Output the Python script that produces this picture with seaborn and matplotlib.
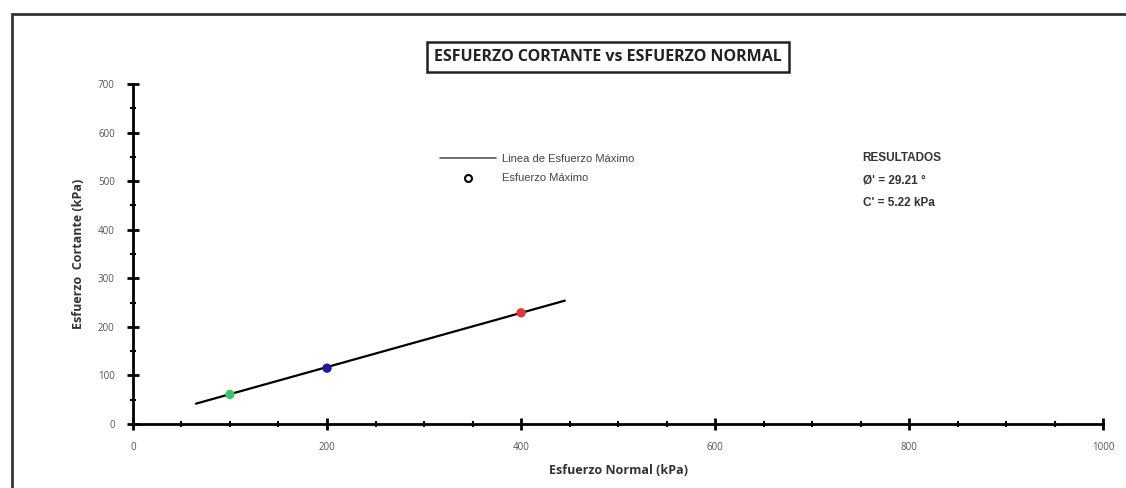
import numpy as np
import pandas as pd
import matplotlib
matplotlib.use("Agg")
import matplotlib.pyplot as plt
from matplotlib.patches import Rectangle
from matplotlib.lines import Line2D
from matplotlib.ticker import MultipleLocator
import seaborn as sns

# puntos de esfuerzo maximo (normal, cortante) en kPa
esf_normal = [100, 200, 400]
esf_cortante = [61, 115, 229]
colores_puntos = ["#3cc46a", "#1c1c9c", "#e0343a"]

# linea de esfuerzo maximo (extremos)
linea_x = [65, 445]
linea_y = [42, 254]

phi = 29.21
cohesion = 5.22

sns.set_style("white")
plt.rcParams["font.family"] = ["Open Sans", "DejaVu Sans"]

fig = plt.figure(figsize=(11.26, 4.88), dpi=100)
ax = fig.add_axes([0.118, 0.131, 0.862, 0.697])

df_linea = pd.DataFrame({"x": linea_x, "y": linea_y})
sns.lineplot(data=df_linea, x="x", y="y", color="black", linewidth=1.6, ax=ax)

df_pts = pd.DataFrame({"x": esf_normal, "y": esf_cortante, "ensayo": ["1", "2", "3"]})
sns.scatterplot(data=df_pts, x="x", y="y", hue="ensayo", palette=colores_puntos,
                s=45, edgecolor="none", legend=False, ax=ax, zorder=3)

ax.set_xlim(0, 1000)
ax.set_ylim(0, 700)
ax.xaxis.set_major_locator(MultipleLocator(200))
ax.xaxis.set_minor_locator(MultipleLocator(50))
ax.yaxis.set_major_locator(MultipleLocator(100))
ax.yaxis.set_minor_locator(MultipleLocator(50))
ax.tick_params(which="both", bottom=True, left=True, top=False, right=False)
ax.tick_params(which="major", direction="inout", length=8, width=2, color="black",
               labelsize=7, labelcolor="#555555", pad=9)
ax.tick_params(which="minor", direction="inout", length=5, width=1.5, color="black")
for s in ["top", "right"]:
    ax.spines[s].set_visible(False)
for s in ["left", "bottom"]:
    ax.spines[s].set_linewidth(2)
    ax.spines[s].set_color("black")
    ax.spines[s].set_zorder(4)
ax.set_facecolor("none")

ax.set_xlabel("Esfuerzo Normal (kPa)", fontsize=9, fontweight="bold", color="#333333", labelpad=8)
ax.set_ylabel("Esfuerzo  Cortante (kPa)", fontsize=9, fontweight="bold", color="#333333", labelpad=9)

# titulo en recuadro
fig.text(0.54, 0.883, "ESFUERZO CORTANTE vs ESFUERZO NORMAL", ha="center", va="center",
         fontsize=11.5, fontweight="bold", color="#222222",
         bbox=dict(boxstyle="square,pad=0.45", facecolor="white", edgecolor="#222222", linewidth=1.8))

# leyenda
handles = [Line2D([], [], color="#555555", linewidth=1.2),
           Line2D([], [], marker="o", linestyle="none", markerfacecolor="white",
                  markeredgecolor="black", markeredgewidth=1.5, markersize=5)]
leg = fig.legend(handles, ["Linea de Esfuerzo Máximo", "Esfuerzo Máximo"],
                 loc="upper left", bbox_to_anchor=(0.382, 0.705), frameon=False,
                 prop={"family": ["Liberation Sans", "DejaVu Sans"], "size": 8},
                 handlelength=5, handletextpad=0.6, labelspacing=0.85, labelcolor="#444444")

# resultados
res_font = ["Liberation Sans", "DejaVu Sans"]
fig.text(0.766, 0.670, "RESULTADOS", fontsize=8.5, fontweight="bold", color="#333333", family=res_font)
fig.text(0.766, 0.623, f"Ø' = {phi:.2f} °", fontsize=8.5, fontweight="bold", color="#333333", family=res_font)
fig.text(0.766, 0.578, f"C' = {cohesion:.2f} kPa", fontsize=8.5, fontweight="bold", color="#333333", family=res_font)

# marco exterior
fig.patches.append(Rectangle((12 / 1126, -0.2), 1.2, 1.2 - 14 / 488, transform=fig.transFigure,
                             fill=False, edgecolor="#333333", linewidth=2, zorder=0))

fig.savefig("out.png", dpi=100)
